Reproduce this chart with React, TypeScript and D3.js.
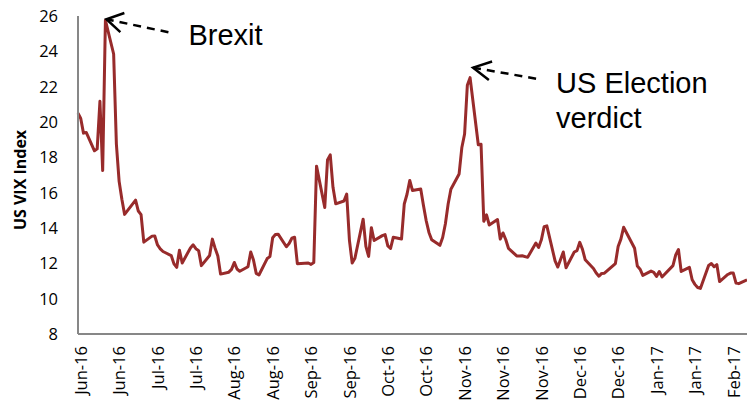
import React from "react";
import * as d3 from "d3";

const dates: string[] = [
  "2016-06-14","2016-06-15","2016-06-16","2016-06-17","2016-06-20","2016-06-21","2016-06-22","2016-06-23","2016-06-24","2016-06-27","2016-06-28","2016-06-29","2016-06-30",
  "2016-07-01","2016-07-05","2016-07-06","2016-07-07","2016-07-08","2016-07-11","2016-07-12","2016-07-13","2016-07-14","2016-07-15","2016-07-18","2016-07-19","2016-07-20","2016-07-21","2016-07-22","2016-07-25","2016-07-26","2016-07-27","2016-07-28","2016-07-29",
  "2016-08-01","2016-08-02","2016-08-03","2016-08-04","2016-08-05","2016-08-08","2016-08-09","2016-08-10","2016-08-11","2016-08-12","2016-08-15","2016-08-16","2016-08-17","2016-08-18","2016-08-19","2016-08-22","2016-08-23","2016-08-24","2016-08-25","2016-08-26","2016-08-29","2016-08-30","2016-08-31",
  "2016-09-01","2016-09-02","2016-09-06","2016-09-07","2016-09-08","2016-09-09","2016-09-12","2016-09-13","2016-09-14","2016-09-15","2016-09-16","2016-09-19","2016-09-20","2016-09-21","2016-09-22","2016-09-23","2016-09-26","2016-09-27","2016-09-28","2016-09-29","2016-09-30",
  "2016-10-03","2016-10-04","2016-10-05","2016-10-06","2016-10-07","2016-10-10","2016-10-11","2016-10-12","2016-10-13","2016-10-14","2016-10-17","2016-10-18","2016-10-19","2016-10-20","2016-10-21","2016-10-24","2016-10-25","2016-10-26","2016-10-27","2016-10-28","2016-10-31",
  "2016-11-01","2016-11-02","2016-11-03","2016-11-04","2016-11-07","2016-11-08","2016-11-09","2016-11-10","2016-11-11","2016-11-14","2016-11-15","2016-11-16","2016-11-17","2016-11-18","2016-11-21","2016-11-22","2016-11-23","2016-11-25","2016-11-28","2016-11-29","2016-11-30",
  "2016-12-01","2016-12-02","2016-12-05","2016-12-06","2016-12-07","2016-12-08","2016-12-09","2016-12-12","2016-12-13","2016-12-14","2016-12-15","2016-12-16","2016-12-19","2016-12-20","2016-12-21","2016-12-22","2016-12-23","2016-12-27","2016-12-28","2016-12-29","2016-12-30",
  "2017-01-03","2017-01-04","2017-01-05","2017-01-06","2017-01-09","2017-01-10","2017-01-11","2017-01-12","2017-01-13","2017-01-17","2017-01-18","2017-01-19","2017-01-20","2017-01-23","2017-01-24","2017-01-25","2017-01-26","2017-01-27","2017-01-30","2017-01-31",
  "2017-02-01","2017-02-02","2017-02-03","2017-02-06","2017-02-07","2017-02-08","2017-02-09","2017-02-10","2017-02-13"
];

const vix: number[] = [
  20.50,20.20,19.37,19.41,18.37,18.48,21.17,17.25,25.76,23.85,18.75,16.64,15.63,
  14.77,15.58,14.96,14.76,13.20,13.54,13.55,13.04,12.82,12.67,12.44,11.97,11.77,12.74,12.02,12.87,13.05,12.83,12.72,11.87,
  12.44,13.37,12.86,12.42,11.39,11.50,11.66,12.05,11.68,11.55,11.81,12.64,12.19,11.43,11.34,12.27,12.38,13.45,13.63,13.65,12.94,13.12,13.42,
  13.48,11.98,12.02,11.94,12.05,17.50,15.16,17.85,18.14,16.30,15.37,15.53,15.92,13.30,12.02,12.29,14.50,12.96,12.39,14.02,13.29,
  13.57,13.63,12.99,12.84,13.48,13.38,15.36,15.91,16.69,16.12,16.21,15.28,14.41,13.75,13.34,13.02,13.46,14.24,15.36,16.19,17.06,
  18.56,19.32,22.08,22.51,18.71,18.74,14.38,14.74,14.17,14.48,13.37,13.72,13.35,12.85,12.42,12.41,12.43,12.34,13.15,12.90,13.33,
  14.07,14.12,12.14,11.79,12.22,12.64,11.75,12.64,12.72,13.19,12.79,12.20,11.71,11.45,11.27,11.43,11.44,11.99,12.95,13.37,14.04,
  12.85,11.85,11.67,11.32,11.56,11.49,11.26,11.54,11.23,11.87,12.48,12.78,11.54,11.77,11.07,10.81,10.63,10.58,11.88,11.99,
  11.81,11.93,10.97,11.37,11.45,11.45,10.88,10.85,11.07
];

const yTicks: number[] = [8, 10, 12, 14, 16, 18, 20, 22, 24, 26];
const xTickStepDays = 14;
const yTitle = "US VIX Index";

const annotations = [
  { date: "2016-06-24", lines: ["Brexit"] },
  { date: "2016-11-04", lines: ["US Election", "verdict"] },
];

const W = 747;
const H = 411;
const FONT = "'Open Sans', 'Noto Sans', sans-serif";
const ANN_FONT = "'Liberation Sans', Arial, sans-serif";
const LINE_COLOR = "#982b2b";
const AXIS_COLOR = "#878787";

export default function App() {
  const parse = d3.utcParse("%Y-%m-%d");
  const data = dates.map((d, i) => ({ key: d, date: parse(d) as Date, v: vix[i] }));
  const start = data[0].date;
  const end = data[data.length - 1].date;

  const x = d3.scaleUtc().domain([start, end]).range([78, 747]);
  const y = d3.scaleLinear().domain([8, 26]).range([334, 16]);

  const line = d3
    .line<{ date: Date; v: number }>()
    .x((d) => x(d.date))
    .y((d) => y(d.v));

  const nDays = d3.utcDay.count(start, end);
  const xTicks = d3.range(0, nDays + 1, xTickStepDays).map((k) => d3.utcDay.offset(start, k));
  const fmt = d3.utcFormat("%b-%y");

  // annotation geometry (relative to the annotated data point)
  const annGeom = [
    { tipDx: 1, tipDy: -1, tailDx: 62, tailDy: 13, textDx: 82, textDy: 26, armLen: 19, armAng: 31 },
    { tipDx: 3, tipDy: -10, tailDx: 63, tailDy: 11, textDx: 83, textDy: 25.5, armLen: 20, armAng: 28 },
  ];

  return (
    <svg
      width={W}
      height={H}
      viewBox={`0 0 ${W} ${H}`}
      style={{ position: "absolute", left: 0, top: 0, display: "block", background: "#fff" }}
    >
      <rect x={0} y={0} width={W} height={H} fill="#fff" />
      {/* data line */}
      <path d={line(data) || ""} fill="none" stroke={LINE_COLOR} strokeWidth={3} strokeLinejoin="round" />

      {/* axes */}
      <line x1={78} x2={78} y1={y(26)} y2={y(8)} stroke={AXIS_COLOR} strokeWidth={2} />
      <line x1={78} x2={747} y1={y(8)} y2={y(8)} stroke={AXIS_COLOR} strokeWidth={2} />

      {/* y ticks */}
      {yTicks.map((t) => (
        <text
          key={t}
          x={58}
          y={y(t)}
          dy="0.36em"
          textAnchor="end"
          fontFamily={FONT}
          fontSize={16.5}
          fill="#000"
        >
          {t}
        </text>
      ))}

      {/* x ticks */}
      {xTicks.map((t, i) => (
        <text
          key={i}
          transform={`translate(${x(t) + 3},${346}) rotate(-90)`}
          dy="0.36em"
          textAnchor="end"
          fontFamily={FONT}
          fontSize={16.5}
          fill="#000"
        >
          {fmt(t)}
        </text>
      ))}

      {/* y title */}
      <text
        transform={`translate(20,180) rotate(-90)`}
        dy="0.36em"
        textAnchor="middle"
        fontFamily={FONT}
        fontWeight="bold"
        fontSize={16}
        fill="#000"
      >
        {yTitle}
      </text>

      {/* annotations */}
      {annotations.map((a, i) => {
        const d = data.find((p) => p.key === a.date)!;
        const g = annGeom[i];
        const px = x(d.date);
        const py = y(d.v);
        const tipX = px + g.tipDx;
        const tipY = py + g.tipDy;
        const tailX = tipX + g.tailDx;
        const tailY = tipY + g.tailDy;
        const ang = Math.atan2(g.tailDy, g.tailDx);
        const a1 = ang - (g.armAng * Math.PI) / 180;
        const a2 = ang + (g.armAng * Math.PI) / 180;
        return (
          <g key={i}>
            <line x1={tailX} y1={tailY} x2={tipX} y2={tipY} stroke="#000" strokeWidth={2.5} strokeDasharray="8,6" />
            <path
              d={`M${tipX + g.armLen * Math.cos(a1)},${tipY + g.armLen * Math.sin(a1)} L${tipX},${tipY} L${tipX + g.armLen * Math.cos(a2)},${tipY + g.armLen * Math.sin(a2)}`}
              fill="none"
              stroke="#000"
              strokeWidth={2.5}
            />
            {a.lines.map((l, j) => (
              <text
                key={j}
                x={tipX + g.textDx}
                y={tipY + g.textDy + j * 35}
                fontFamily={ANN_FONT}
                fontSize={29}
                fill="#000"
              >
                {l}
              </text>
            ))}
          </g>
        );
      })}
    </svg>
  );
}
